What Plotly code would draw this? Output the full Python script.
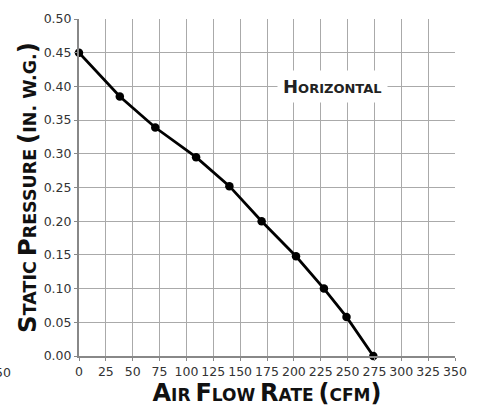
import plotly.graph_objects as go

airflow_cfm = [0, 38, 71, 109, 140, 170, 202, 228, 249, 274]
static_pressure = [0.45, 0.385, 0.339, 0.295, 0.252, 0.200, 0.148, 0.100, 0.058, 0.0]
x_ticks = list(range(0, 351, 25))
y_ticks = [0.00, 0.05, 0.10, 0.15, 0.20, 0.25, 0.30, 0.35, 0.40, 0.45, 0.50]
y_tick_text = [f"{v:.2f}" for v in y_ticks]

FONT = "DejaVu Sans, Verdana, sans-serif"

def smallcaps(words, big, small):
    out = []
    for w in words:
        out.append(f"<span style='font-size:{big}px'>{w[0]}</span><span style='font-size:{small}px'>{w[1:]}</span>")
    return " ".join(out)

x_title = (
    "<b>" + smallcaps(["AIR", "FLOW", "RATE"], 24, 17)
    + " <span style='font-size:24px'>(</span><span style='font-size:17px'>CFM</span><span style='font-size:24px'>)</span></b>"
)
y_title = (
    "<b>" + smallcaps(["STATIC", "PRESSURE"], 24.5, 17.5)
    + " <span style='font-size:24.5px'>(</span><span style='font-size:17.5px'>IN. W.G.</span><span style='font-size:24.5px'>)</span></b>"
)

fig = go.Figure()
fig.add_trace(go.Scatter(
    x=airflow_cfm, y=static_pressure, mode="lines+markers",
    line=dict(color="black", width=2.8),
    marker=dict(color="black", size=8.5),
    showlegend=False, cliponaxis=False, hoverinfo="skip",
))

fig.update_layout(
    width=485, height=413,
    margin=dict(l=79, r=30, t=19, b=57),
    paper_bgcolor="white", plot_bgcolor="white",
    font=dict(family=FONT, color="#333333", size=12),
)
fig.update_xaxes(
    range=[0, 350], tickvals=x_ticks, ticktext=[str(v) for v in x_ticks],
    showgrid=True, gridcolor="#aaaaaa", gridwidth=1.2,
    showline=True, linecolor="#888888", linewidth=2,
    ticks="outside", ticklen=3, tickcolor="#888888", tickwidth=1.2,
    tickfont=dict(family=FONT, size=12.5, color="#333333"), zeroline=False, automargin=False,
    title=dict(text=x_title, font=dict(family=FONT, color="#111111"), standoff=4),
)
fig.update_yaxes(
    range=[0, 0.5], tickvals=y_ticks, ticktext=y_tick_text,
    showgrid=True, gridcolor="#aaaaaa", gridwidth=1.2,
    showline=True, linecolor="#888888", linewidth=2,
    ticks="outside", ticklen=3, tickcolor="#888888", tickwidth=1.2,
    tickfont=dict(family=FONT, size=12.5, color="#333333"), zeroline=False, automargin=False,
    title=dict(text=y_title, font=dict(family=FONT, color="#111111"), standoff=4),
)

fig.add_annotation(
    x=236, y=0.40, xref="x", yref="y", showarrow=False,
    text="<b>" + smallcaps(["HORIZONTAL"], 18, 13) + "</b>",
    font=dict(family=FONT, color="#222222"),
    bgcolor="white", borderpad=5,
)
fig.add_annotation(
    x=-0.175, y=-0.0475, xref="paper", yref="paper", showarrow=False,
    xanchor="right", yanchor="middle", text="350",
    font=dict(family=FONT, size=12.5, color="#333333"),
)

fig.write_html("out.html", config={"displayModeBar": False},
               post_script="document.body.style.margin='0';")
